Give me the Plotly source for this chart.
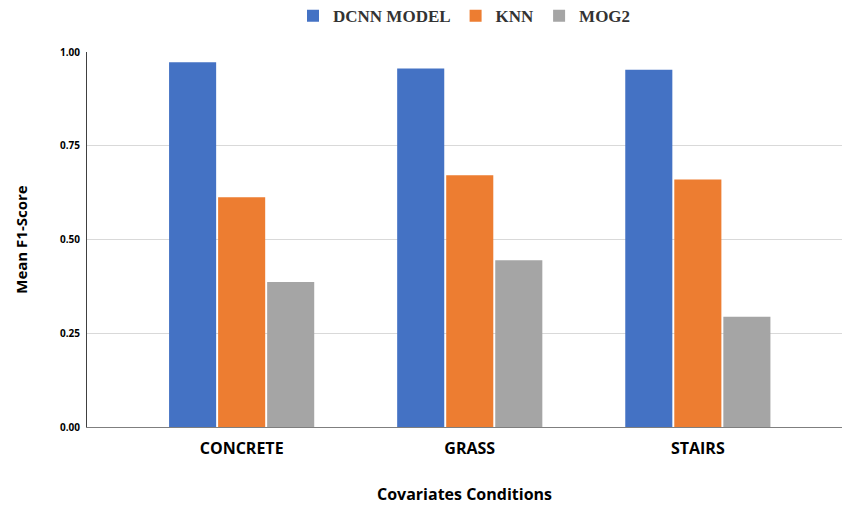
import plotly.graph_objects as go

categories = ["CONCRETE", "GRASS", "STAIRS"]
dcnn_model = [0.973, 0.956, 0.953]
knn = [0.613, 0.671, 0.660]
mog2 = [0.387, 0.445, 0.294]
y_ticks = [0.0, 0.25, 0.5, 0.75, 1.0]
y_tick_labels = ["0.00", "0.25", "0.50", "0.75", "1.00"]

series = [
    ("DCNN MODEL", dcnn_model, "#4472C4"),
    ("KNN", knn, "#ED7D31"),
    ("MOG2", mog2, "#A5A5A5"),
]

fig = go.Figure()
for name, vals, color in series:
    fig.add_trace(go.Bar(
        x=categories, y=vals, name=name,
        marker=dict(color=color, line=dict(width=0)),
    ))

fig.update_layout(
    width=842, height=507,
    margin=dict(l=87, r=0, t=52, b=80),
    paper_bgcolor="white", plot_bgcolor="white",
    barmode="group", bargap=0.355, bargroupgap=0.04,
    font=dict(family="Open Sans", color="#000"),
    legend=dict(
        orientation="h", x=0.5, xanchor="center",
        yref="container", y=0.968, yanchor="middle",
        font=dict(family="Liberation Serif", size=17, weight="bold", color="#333"),
        traceorder="normal", itemwidth=30,
    ),
    xaxis=dict(
        range=[-0.678, 2.632],
        showgrid=False, showline=True, linecolor="#7f7f7f", linewidth=1,
        ticks="", tickfont=dict(family="Open Sans", size=16, weight="bold", color="#000"),
        ticklabelstandoff=7,
        title=dict(text="Covariates Conditions", standoff=30,
                   font=dict(family="Open Sans", size=16, weight="bold", color="#000")),
    ),
    yaxis=dict(
        range=[0, 1.0], tickvals=y_ticks, ticktext=y_tick_labels,
        showgrid=True, gridcolor="#d9d9d9", gridwidth=1,
        showline=True, linecolor="#404040", linewidth=1,
        ticks="", zeroline=False,
        tickfont=dict(family="Open Sans", size=10, weight="bold", color="#000"),
        ticklabelstandoff=4,
        title=dict(text="Mean F1-Score", standoff=28,
                   font=dict(family="Open Sans", size=15, weight="bold", color="#000")),
    ),
)

fig.write_html("out.html")
